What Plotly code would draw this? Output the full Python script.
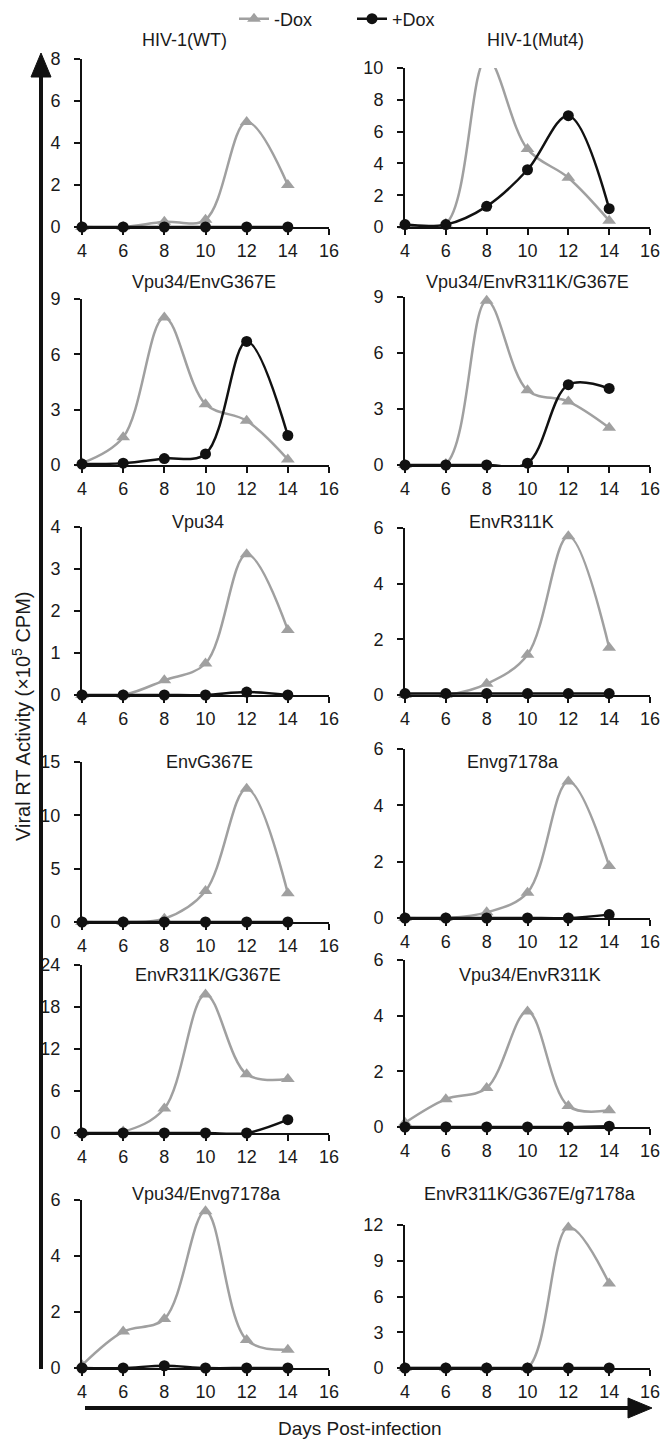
import plotly.graph_objects as go

# ---------------- data ----------------
days = [4, 6, 8, 10, 12, 14]
x_ticks = [4, 6, 8, 10, 12, 14, 16]

titles = ["HIV-1(WT)", "HIV-1(Mut4)",
          "Vpu34/EnvG367E", "Vpu34/EnvR311K/G367E",
          "Vpu34", "EnvR311K",
          "EnvG367E", "Envg7178a",
          "EnvR311K/G367E", "Vpu34/EnvR311K",
          "Vpu34/Envg7178a", "EnvR311K/G367E/g7178a"]

wt_minus = [0, 0, 0.25, 0.35, 5.0, 2.0]
wt_plus = [0, 0, 0, 0, 0, 0]
mut4_minus = [0.1, 0.2, 10.6, 4.9, 3.1, 0.4]
mut4_plus = [0.15, 0.15, 1.3, 3.6, 7.0, 1.15]
vpu_g367e_minus = [0.1, 1.5, 8.0, 3.3, 2.4, 0.3]
vpu_g367e_plus = [0.05, 0.1, 0.35, 0.6, 6.7, 1.6]
vpu_r311k_g367e_minus = [0, 0.05, 8.8, 4.0, 3.4, 2.0]
vpu_r311k_g367e_plus = [0, 0, 0, 0.1, 4.3, 4.1]
vpu34_minus = [0, 0, 0.35, 0.75, 3.35, 1.55]
vpu34_plus = [0, 0, 0, 0, 0.07, 0]
r311k_minus = [0, 0, 0.4, 1.45, 5.7, 1.7]
r311k_plus = [0.05, 0.05, 0.05, 0.05, 0.05, 0.05]
g367e_minus = [0, 0, 0.3, 2.9, 12.5, 2.7]
g367e_plus = [0, 0, 0, 0, 0, 0]
g7178a_minus = [0, 0, 0.2, 0.9, 4.85, 1.85]
g7178a_plus = [0, 0, 0, 0, 0, 0.12]
r311k_g367e_minus = [0, 0.2, 3.5, 19.8, 8.4, 7.7]
r311k_g367e_plus = [0, 0, 0, 0, 0, 1.9]
vpu_r311k_minus = [0.15, 1.0, 1.4, 4.15, 0.75, 0.6]
vpu_r311k_plus = [0, 0, 0, 0, 0, 0.03]
vpu_g7178a_minus = [0.1, 1.3, 1.75, 5.6, 1.0, 0.65]
vpu_g7178a_plus = [0, 0, 0.08, 0, 0, 0]
triple_minus = [0, 0, 0, 0, 11.8, 7.1]
triple_plus = [0, 0, 0, 0, 0, 0]

minus_series = [wt_minus, mut4_minus, vpu_g367e_minus, vpu_r311k_g367e_minus,
                vpu34_minus, r311k_minus, g367e_minus, g7178a_minus,
                r311k_g367e_minus, vpu_r311k_minus, vpu_g7178a_minus, triple_minus]
plus_series = [wt_plus, mut4_plus, vpu_g367e_plus, vpu_r311k_g367e_plus,
               vpu34_plus, r311k_plus, g367e_plus, g7178a_plus,
               r311k_g367e_plus, vpu_r311k_plus, vpu_g7178a_plus, triple_plus]

y_max = [8, 10, 9, 9, 4, 6, 15, 6, 24, 6, 6, 12]
y_step = [2, 2, 3, 3, 1, 2, 5, 2, 6, 2, 2, 3]

# ---------------- geometry (page pixels) ----------------
OX, OY = 8, 8            # default body margin of the html page
FW, FH = 660, 1435       # figure size
left_x = (82, 329)
right_x = (405, 650)
tops = [59, 68, 299, 297, 527, 528, 762, 749, 965, 960, 1200, 1225]
zeros = [227, 227, 465, 465, 695, 695, 922, 918, 1133, 1127, 1368, 1368]
title_x = [184, 535, 204, 527, 198, 511, 210, 513, 208, 530, 206, 530]
title_y = [40, 40, 282, 282, 522, 522, 762, 762, 975, 975, 1194, 1194]

GRAY = "#a0a0a0"
BLACK = "#111111"
TXT = "#1a1a1a"
FONT = "Arial, Liberation Sans, sans-serif"


def fx(p):
    return (p - OX) / FW


def fy(p):
    return 1 - (p - OY) / FH


fig = go.Figure()
layout = dict(width=FW, height=FH,
              margin=dict(l=0, r=0, t=0, b=0, pad=0, autoexpand=False),
              paper_bgcolor="white", plot_bgcolor="white",
              font=dict(family=FONT, size=18, color=TXT))

annotations = []
for i in range(12):
    k = "" if i == 0 else str(i + 1)
    xs = left_x if i % 2 == 0 else right_x
    layout["xaxis" + k] = dict(
        domain=[fx(xs[0]), fx(xs[1])], anchor="y" + k, range=[4, 16],
        tickvals=x_ticks, showgrid=False, zeroline=False, automargin=False,
        showline=True, linecolor=BLACK, linewidth=2,
        ticks="outside", ticklen=6, tickwidth=2, tickcolor=BLACK,
        tickfont=dict(size=18, color=TXT, family=FONT))
    layout["yaxis" + k] = dict(
        domain=[fy(zeros[i]), fy(tops[i])], anchor="x" + k,
        range=[0, y_max[i]], dtick=y_step[i], tick0=0,
        showgrid=False, zeroline=False, automargin=False,
        showline=True, linecolor=BLACK, linewidth=2,
        ticks="outside", ticklen=6, tickwidth=2, tickcolor=BLACK,
        ticklabelstandoff=10,
        tickfont=dict(size=18, color=TXT, family=FONT))
    fig.add_trace(go.Scatter(
        x=days, y=minus_series[i], xaxis="x" + k, yaxis="y" + k,
        mode="lines+markers", name="-Dox", legendgroup="m",
        showlegend=(i == 0), cliponaxis=False,
        line=dict(color=GRAY, width=2.5, shape="spline", smoothing=1),
        marker=dict(symbol="triangle-up", size=12, color=GRAY)))
    fig.add_trace(go.Scatter(
        x=days, y=plus_series[i], xaxis="x" + k, yaxis="y" + k,
        mode="lines+markers", name="+Dox", legendgroup="p",
        showlegend=(i == 0), cliponaxis=False,
        line=dict(color=BLACK, width=2.5, shape="spline", smoothing=1),
        marker=dict(symbol="circle", size=11, color=BLACK)))
    annotations.append(dict(
        text=titles[i], x=fx(title_x[i]), y=fy(title_y[i]),
        xref="paper", yref="paper", showarrow=False,
        xanchor="center", yanchor="middle",
        font=dict(size=18, color=TXT, family=FONT)))

annotations.append(dict(
    text="Viral RT Activity (×10<sup>5</sup> CPM)", x=fx(21), y=fy(716),
    xref="paper", yref="paper", showarrow=False, textangle=-90,
    xanchor="center", yanchor="middle",
    font=dict(size=20, color=TXT, family=FONT)))
annotations.append(dict(
    text="Days Post-infection", x=fx(360), y=fy(1428),
    xref="paper", yref="paper", showarrow=False,
    xanchor="center", yanchor="middle",
    font=dict(size=19, color=TXT, family=FONT)))

shapes = [
    # vertical arrow
    dict(type="line", xref="paper", yref="paper",
         x0=fx(41), x1=fx(41), y0=fy(1369), y1=fy(72),
         line=dict(color=BLACK, width=4)),
    dict(type="path", xref="paper", yref="paper",
         path=f"M {fx(41)} {fy(53)} L {fx(31)} {fy(77)} L {fx(51)} {fy(77)} Z",
         fillcolor=BLACK, line=dict(color=BLACK, width=1)),
    # horizontal arrow
    dict(type="line", xref="paper", yref="paper",
         x0=fx(85), x1=fx(633), y0=fy(1408), y1=fy(1408),
         line=dict(color=BLACK, width=4)),
    dict(type="path", xref="paper", yref="paper",
         path=f"M {fx(652)} {fy(1408)} L {fx(628)} {fy(1398)} L {fx(628)} {fy(1418)} Z",
         fillcolor=BLACK, line=dict(color=BLACK, width=1)),
]

layout["annotations"] = annotations
layout["shapes"] = shapes
layout["legend"] = dict(orientation="h", x=fx(234), y=fy(19), xanchor="left", yanchor="middle",
                        entrywidth=73, entrywidthmode="pixels",
                        font=dict(size=18, color=TXT, family=FONT),
                        bgcolor="rgba(0,0,0,0)")
fig.update_layout(**layout)

fig.write_html("out.html")
